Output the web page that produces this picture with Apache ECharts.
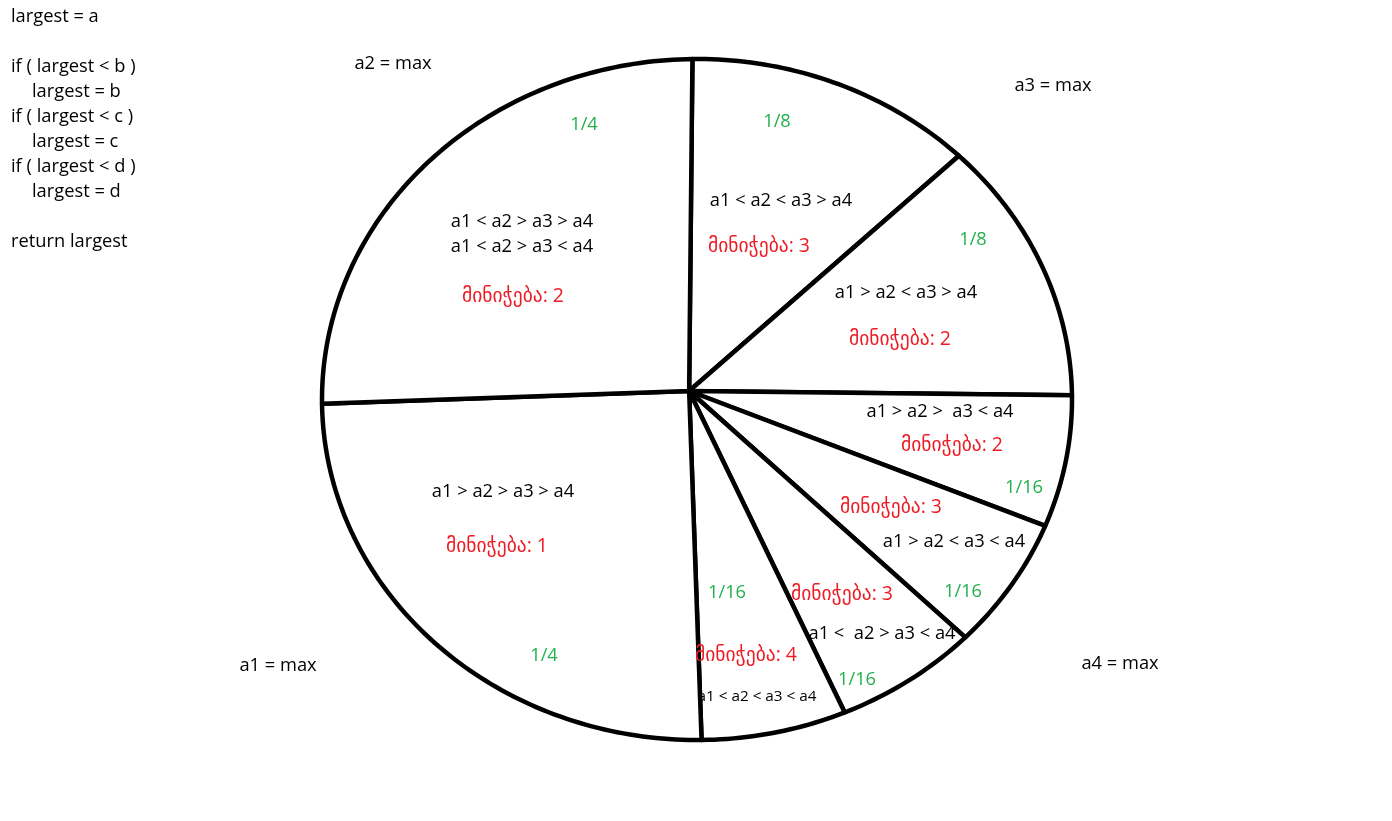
<!DOCTYPE html>
<html><head><meta charset="utf-8">
<script src="https://cdn.jsdelivr.net/npm/echarts@6/dist/echarts.min.js"></script>
<style>html,body{margin:0;padding:0;background:#fff}#c{width:1392px;height:821px}</style></head>
<body><div id="c"></div>
<script>
// Slices, clockwise from the top
const sliceNames = ['a1 < a2 < a3 > a4', 'a1 > a2 < a3 > a4', 'a1 > a2 > a3 < a4', 'a1 > a2 < a3 < a4',
                    'a1 < a2 > a3 < a4', 'a1 < a2 < a3 < a4', 'a1 > a2 > a3 > a4', 'a1 < a2 > a3 >/< a4'];
const sliceValues = [0.125, 0.125, 0.0625, 0.0625, 0.0625, 0.0625, 0.25, 0.25];
const codeLines = ['largest = a', '', 'if ( largest < b )', '    largest = b', 'if ( largest < c )',
                   '    largest = c', 'if ( largest < d )', '    largest = d', '', 'return largest'];

const FONT = "'Open Sans', 'DejaVu Sans', sans-serif";
const BLACK = '#000000', RED = '#ed1c24', GREEN = '#22b14c';
const startAngle = 90.7;
const hub = [-0.021, 0.025];
const LATIN = 18.3, GEO = 19.5;

// text annotations (pixel centre, colour, size)
const labels = [
  ['a2 = max', 393, 64, BLACK], ['a3 = max', 1053, 86, BLACK], ['a1 = max', 278, 666, BLACK], ['a4 = max', 1120, 664, BLACK],
  ['1/4', 584, 125, GREEN], ['a1 < a2 > a3 > a4', 522, 222, BLACK], ['a1 < a2 > a3 < a4', 522, 247, BLACK], ['მინიჭება: 2', 513, 296, RED],
  ['1/8', 777, 122, GREEN], ['a1 < a2 < a3 > a4', 781, 201, BLACK], ['მინიჭება: 3', 759, 246, RED],
  ['1/8', 973, 240, GREEN], ['a1 > a2 < a3 > a4', 906, 293, BLACK], ['მინიჭება: 2', 900, 339, RED],
  ['a1 > a2 >  a3 < a4', 940, 412, BLACK], ['მინიჭება: 2', 952, 445, RED], ['1/16', 1024, 488, GREEN],
  ['მინიჭება: 3', 891, 507, RED], ['a1 > a2 < a3 < a4', 954, 542, BLACK], ['1/16', 963, 592, GREEN],
  ['მინიჭება: 3', 842, 594, RED], ['a1 <  a2 > a3 < a4', 882, 634, BLACK], ['1/16', 857, 680, GREEN],
  ['1/16', 727, 593, GREEN], ['მინიჭება: 4', 746, 655, RED], ['a1 < a2 < a3 < a4', 757, 697, BLACK, 15.3],
  ['a1 > a2 > a3 > a4', 503, 492, BLACK], ['მინიჭება: 1', 497, 546, RED], ['1/4', 544, 656, GREEN]
];

const graphics = [];
labels.forEach(function (l) {
  const isGeo = /[\u10A0-\u10FF]/.test(l[0]);
  graphics.push({
    type: 'text', x: l[1], y: l[2], z: 10,
    style: { text: l[0], fill: l[3], fontSize: l[4] || (isGeo ? GEO : LATIN), fontFamily: FONT,
             align: 'center', verticalAlign: 'middle', textAlign: 'center', textVerticalAlign: 'middle' }
  });
});
codeLines.forEach(function (t, i) {
  if (!t) return;
  const indent = t.startsWith('    ');
  graphics.push({
    type: 'text', x: indent ? 32 : 11, y: 17 + i * 25, z: 10,
    style: { text: t.trim(), fill: BLACK, fontSize: LATIN, fontFamily: FONT,
             align: 'left', verticalAlign: 'middle', textAlign: 'left', textVerticalAlign: 'middle' }
  });
});

const chart = echarts.init(document.getElementById('c'), null, { renderer: 'canvas' });
chart.setOption({
  backgroundColor: '#ffffff',
  animation: false,
  grid: { left: 322, right: 320, top: 59, bottom: 81 },
  xAxis: { type: 'value', min: -1, max: 1, show: false },
  yAxis: { type: 'value', min: -1, max: 1, show: false },
  graphic: graphics,
  series: [{
    type: 'custom',
    coordinateSystem: 'cartesian2d',
    data: sliceValues.map(function (v, i) { return { value: [i, v], name: sliceNames[i] }; }),
    renderItem: function (params, api) {
      const i = params.dataIndex;
      let cum = 0;
      for (let k = 0; k < i; k++) cum += sliceValues[k];
      const a0 = startAngle - cum * 360, a1 = a0 - sliceValues[i] * 360;
      const pts = [api.coord(hub)];
      const n = Math.max(12, Math.ceil(sliceValues[i] * 360));
      for (let s = 0; s <= n; s++) {
        const a = (a0 + (a1 - a0) * s / n) * Math.PI / 180;
        pts.push(api.coord([Math.cos(a), Math.sin(a)]));
      }
      return { type: 'polygon', shape: { points: pts },
               style: { fill: '#ffffff', stroke: '#000000', lineWidth: 4.5, lineJoin: 'round' } };
    }
  }]
});
</script></body></html>
